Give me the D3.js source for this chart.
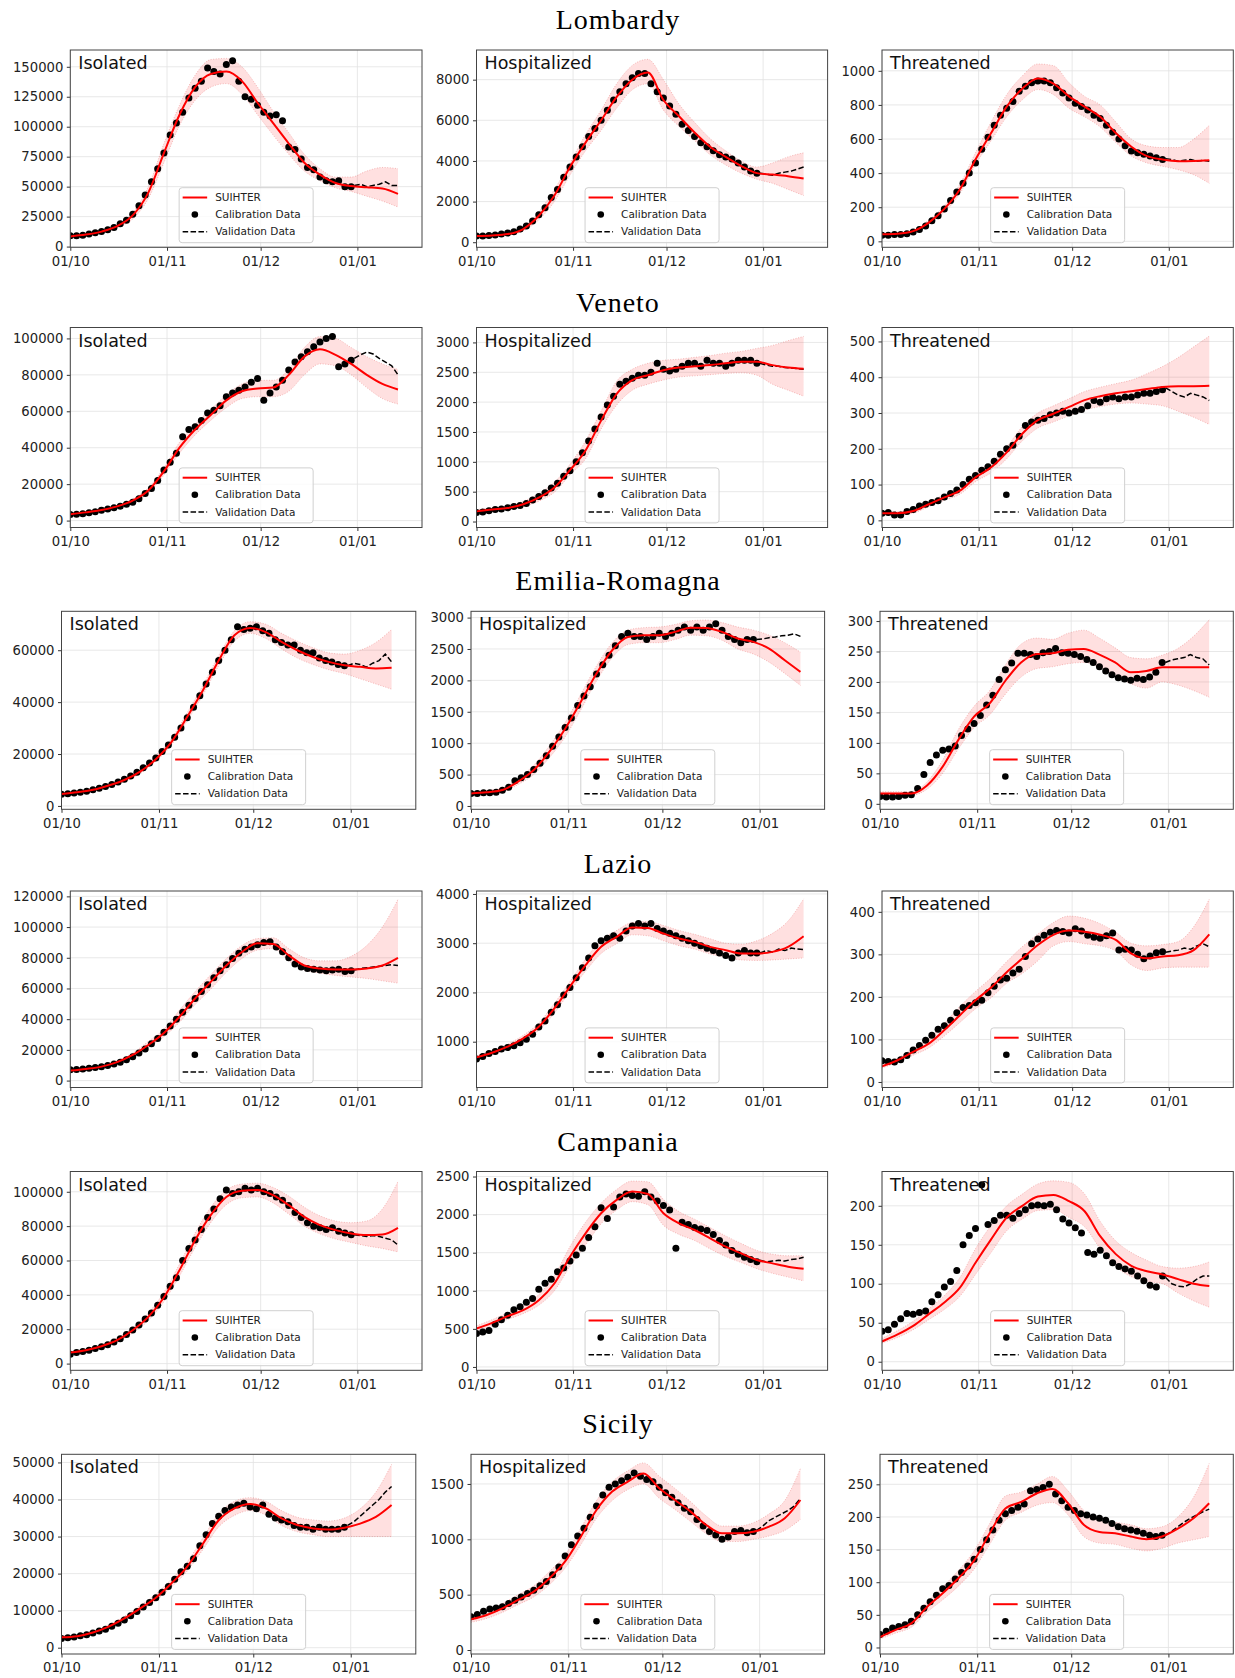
<!DOCTYPE html>
<meta charset="utf-8">
<style>
body { margin: 0; background: #fff; }
svg text { font-family: "DejaVu Sans", sans-serif; }
.region { font-family: "Liberation Serif", serif !important; font-size: 28px; letter-spacing: 1px; fill: #000; }
.ptitle { font-size: 17.5px; fill: #111; }
.axis text { font-size: 13.2px; fill: #222; }
.axis line { stroke: #333; }
.grid line { stroke: #e2e2e2; stroke-width: 0.8; }
.band { fill: #ff0000; fill-opacity: 0.12; stroke: none; }
.band-edge { fill: none; stroke: #e05050; stroke-opacity: 0.45; stroke-width: 0.8; stroke-dasharray: 1 1.6; }
.dot { fill: #000; }
.val { fill: none; stroke: #000; stroke-width: 1.5; stroke-dasharray: 5.5 2.4; }
.fit { fill: none; stroke: #ff0000; stroke-width: 2; }
.frame { fill: none; stroke: #444; stroke-width: 1; }
.legend rect { fill: #fff; fill-opacity: 0.8; stroke: #d0d0d0; stroke-width: 1; }
.legend text { font-size: 10.5px; fill: #222; }
</style>
<svg width="1235" height="1678"></svg>
<script src="https://d3js.org/d3.v7.min.js"></script>
<script>

var regions = ["Lombardy", "Veneto", "Emilia-Romagna", "Lazio", "Campania", "Sicily"];
var compartments = ["Isolated", "Hospitalized", "Threatened"];
var legendLabels = ["SUIHTER", "Calibration Data", "Validation Data"];

// days after 1 Oct 2020
var calDays = [0,2,4,6,8,10,12,14,16,18,20,22,24,26,28,30,32,34,36,38,40,42,44,46,48,50,52,54,56,58,60,62,64,66,68,70,72,74,76,78,80,82,84,86,88,90];
var fitDays = [0,5,10,15,20,25,30,35,40,45,50,55,60,65,70,75,80,85,90,95,100,105];
var valDays = [91,93,95,97,99,101,103,105];
var xTickDates = ["2020-10-01", "2020-11-01", "2020-12-01", "2021-01-01"];

// Lombardy
var lomIsoCal = [9000,9000,9500,10500,11500,12500,14000,16000,19000,22000,27000,34000,43000,54000,65000,78000,93000,103000,112000,124000,132000,138000,149000,146000,144000,152000,155000,138000,125000,123000,118000,112000,109000,110000,105000,83000,81000,73000,66000,64000,58000,55000,54000,55000,50000,50000];
var lomIsoFit = [8500,10000,12500,17000,26000,45000,78000,110000,133000,144000,146000,138000,120000,103000,86000,70000,60000,53000,50500,49500,48500,44000];
var lomIsoLo = [7500,9000,11500,15500,23000,40000,70000,101000,122000,133000,136000,127000,110000,93000,77000,63000,55000,49000,46000,42000,38000,33000];
var lomIsoHi = [9500,11000,13500,18500,28500,50000,86000,118000,143000,156000,157000,150000,133000,113000,95000,77000,65000,58000,58000,63000,66000,65000];
var lomIsoVal = [51000,52000,50000,51000,52000,54000,51000,51000];

var lomHosCal = [300,300,330,350,400,450,520,650,800,1050,1350,1700,2200,2600,3200,3700,4200,4700,5200,5600,6000,6500,7000,7400,7800,8100,8300,8300,7800,7400,7100,6700,6300,5800,5500,5200,4900,4700,4500,4300,4200,4100,3900,3700,3500,3400];
var lomHosFit = [300,330,400,650,1300,2300,3700,4900,6000,7150,8000,8350,7000,6200,5400,4700,4200,3750,3400,3330,3250,3140];
var lomHosLo = [250,300,350,550,1100,2000,3300,4500,5500,6600,7500,7800,6500,5700,5000,4300,3800,3400,3100,2900,2600,2300];
var lomHosHi = [350,400,480,750,1500,2600,3900,5300,6500,7800,8700,9000,8000,6800,5900,5100,4500,4000,3700,3900,4200,4400];
var lomHosVal = [3400,3350,3300,3400,3450,3500,3600,3700];

var lomThrCal = [35,35,40,40,45,55,70,90,120,150,190,240,290,340,400,460,540,610,680,740,780,820,880,910,930,940,940,930,900,870,840,810,790,770,740,720,680,640,600,560,530,520,510,500,490,480];
var lomThrFit = [42,45,60,110,190,305,480,635,790,895,955,925,850,790,730,635,555,500,480,470,471,475];
var lomThrLo = [35,40,55,100,170,280,450,590,730,830,890,860,780,730,670,580,500,460,440,420,390,340];
var lomThrHi = [45,50,65,125,210,335,520,700,860,970,1040,1030,930,850,800,700,600,560,550,550,600,680];
var lomThrVal = [485,480,470,475,480,470,475,470];

// Veneto
var venIsoCal = [3300,3500,3800,4300,4800,5700,6300,7000,7900,9000,10000,12000,14800,17600,22000,27700,32000,37000,46000,50000,51500,55000,59000,60600,63000,68000,70000,71600,73400,76000,78000,66000,70000,73400,77000,82600,87000,90000,92700,95400,98000,100000,101000,84400,86000,88000];
var venIsoFit = [3500,4500,5800,7800,11000,16500,27000,40000,50000,58000,66000,71000,72500,73000,80000,90000,94000,91000,86000,80000,75000,72000];
var venIsoLo = [3000,4000,5200,7000,10000,15000,25000,37000,47000,55000,62000,67000,68000,68000,71000,80000,86000,85000,80000,73000,67000,64000];
var venIsoHi = [4000,5000,6500,8500,12000,18000,29000,43000,53000,61000,69000,75000,77000,77000,83000,95000,101000,100000,95000,90000,86000,83000];
var venIsoVal = [89000,91000,92500,91500,89000,87000,85000,80000];

var venHosCal = [150,160,180,200,210,230,250,270,300,360,420,480,560,640,760,850,1000,1150,1350,1550,1750,1950,2100,2300,2350,2400,2450,2450,2500,2650,2550,2520,2550,2600,2650,2650,2600,2700,2650,2650,2600,2650,2700,2700,2700,2650];
var venHosFit = [170,200,225,290,400,570,860,1190,1690,2140,2370,2450,2535,2580,2600,2620,2650,2675,2675,2620,2580,2560];
var venHosLo = [140,170,200,250,340,490,780,1050,1550,1950,2200,2300,2370,2420,2440,2460,2480,2490,2450,2300,2200,2100];
var venHosHi = [200,230,270,340,470,660,960,1350,1850,2350,2550,2650,2700,2720,2750,2780,2820,2850,2900,2950,3030,3100];
var venHosVal = [2650,2620,2600,2600,2580,2570,2560,2550];

var venThrCal = [20,22,15,15,25,30,40,45,50,55,65,75,85,100,115,125,140,150,165,185,200,210,235,265,275,280,285,295,300,305,300,305,310,320,335,330,340,345,340,345,345,350,355,355,360,365];
var venThrFit = [20,20,26,45,64,83,120,148,190,242,280,298,317,336,347,355,361,367,373,375,375,376];
var venThrLo = [15,15,20,38,56,73,108,133,172,222,258,275,292,308,318,325,328,325,320,305,288,268];
var venThrHi = [25,25,30,52,72,93,135,162,205,262,300,320,340,360,372,382,392,410,430,455,485,515];
var venThrVal = [370,360,350,345,355,350,345,335];

// Emilia-Romagna
var emrIsoCal = [4500,4700,5000,5300,5700,6200,6800,7500,8300,9200,10300,11500,13000,14700,16500,18500,21000,23500,26500,30000,34000,38000,42500,47000,51500,56000,60000,64000,69000,68000,68500,69000,67500,66500,64000,63000,62000,62000,60000,59000,59000,57000,56000,55500,54500,54000];
var emrIsoFit = [4600,5300,6200,7900,10000,13200,18000,24700,34400,44600,56000,65800,68600,67000,63200,60000,57400,55500,54200,53600,53000,53200];
var emrIsoLo = [4300,5000,5800,7600,9300,12400,17200,23500,32800,42800,54000,63500,66500,64500,60500,57000,54500,52500,51000,49000,47000,45000];
var emrIsoHi = [4800,5700,6600,8600,10700,14000,19500,26000,36000,46500,58000,67500,71000,70000,66500,63500,61000,59000,58500,60000,63000,68000];
var emrIsoVal = [54000,55000,54500,53500,55000,56000,58500,55500];

var emrHosCal = [200,200,210,210,220,250,300,400,450,500,580,680,800,950,1100,1250,1400,1600,1750,1900,2100,2250,2400,2550,2700,2750,2700,2700,2650,2700,2750,2700,2750,2800,2850,2800,2850,2800,2850,2900,2800,2700,2650,2600,2650,2650];
var emrHosFit = [200,217,254,387,572,864,1230,1659,2109,2480,2692,2719,2719,2772,2840,2835,2772,2666,2613,2507,2321,2136];
var emrHosLo = [180,190,220,340,500,770,1100,1530,1990,2360,2570,2600,2600,2650,2720,2710,2640,2500,2420,2290,2110,1920];
var emrHosHi = [230,250,290,440,650,960,1330,1780,2230,2600,2800,2840,2850,2890,2950,2960,2920,2850,2800,2720,2600,2450];
var emrHosVal = [2650,2660,2680,2690,2710,2720,2740,2700];

var emrThrCal = [12,11,11,12,14,15,25,48,68,80,88,90,95,112,123,132,145,162,178,204,220,231,247,247,245,242,248,250,255,248,247,245,242,237,232,225,218,212,207,205,203,206,204,208,216,232];
var emrThrFit = [17,17,17,30,61,105,143,165,202,232,246,247,253,254,245,232,216,218,224,224,224,224];
var emrThrLo = [14,14,14,24,50,90,125,146,180,208,222,225,230,232,225,212,197,190,200,195,186,175];
var emrThrHi = [20,20,20,36,72,122,160,186,228,262,272,270,280,285,272,256,240,238,244,255,275,302];
var emrThrVal = [232,236,238,240,245,240,238,228];

// Lazio
var lazIsoCal = [7000,7200,7500,8000,8500,9000,9800,10800,12000,13500,15500,18000,20500,24000,27500,31500,35500,40000,44500,49000,53500,58000,62500,67000,71500,75500,79500,83000,85500,87000,88500,90000,90500,87000,84000,80000,76000,74000,73000,72500,72000,71500,72000,72500,71000,71500];
var lazIsoFit = [6500,7600,9100,12000,16700,23200,31000,41600,53500,64300,75000,83800,89500,89000,81600,75000,73000,72300,72300,73000,75000,80000];
var lazIsoLo = [6000,7000,8300,11000,15500,21500,28500,38000,49500,59500,70500,79500,85000,86000,78000,72000,70000,68500,67500,66500,65000,63500];
var lazIsoHi = [7200,8200,10000,13000,18000,25500,33500,46000,58000,69000,79500,88000,92500,93000,86000,80000,78000,78000,81000,88000,100000,118000];
var lazIsoVal = [72000,73000,73500,74000,74500,75000,75500,75000];

var lazHosCal = [650,700,760,800,850,880,920,980,1050,1150,1300,1420,1600,1750,1950,2100,2300,2500,2700,2950,3050,3100,3150,3100,3250,3350,3400,3350,3400,3300,3250,3200,3150,3100,3050,3000,2950,2900,2850,2800,2750,2700,2800,2850,2800,2800];
var lazHosFit = [682,777,899,1068,1304,1676,2120,2554,2926,3128,3320,3310,3196,3095,3027,2926,2858,2790,2790,2824,2926,3142];
var lazHosLo = [640,730,850,1010,1230,1580,2020,2430,2790,2990,3170,3150,3050,2950,2880,2780,2710,2660,2650,2660,2680,2700];
var lazHosHi = [720,820,950,1130,1380,1780,2220,2680,3060,3260,3420,3440,3360,3260,3180,3090,3000,2980,3050,3200,3450,3900];
var lazHosVal = [2800,2850,2820,2880,2850,2900,2880,2870];

var lazThrCal = [50,48,47,52,62,75,86,98,110,124,132,145,163,175,180,186,192,210,225,240,244,256,265,295,325,336,345,352,356,354,350,360,355,345,340,338,344,350,310,312,310,300,290,296,304,306];
var lazThrFit = [37,51,71,90,122,157,192,222,258,290,322,346,356,353,346,334,302,291,295,298,310,347];
var lazThrLo = [33,46,63,80,108,140,172,198,232,255,285,320,330,325,320,308,275,262,268,270,270,270];
var lazThrHi = [42,56,80,102,138,178,213,245,283,318,348,375,390,385,372,352,326,320,323,330,365,430];
var lazThrVal = [305,308,310,315,312,320,325,318];

// Campania
var camIsoCal = [5500,6500,7000,7800,8800,9800,11000,12500,14500,17000,19500,22500,26000,29500,34000,39000,45000,50000,60000,67000,72000,78000,85000,90000,96000,101000,99000,100000,102000,101000,102000,100000,99000,97000,95000,92000,88000,85000,82000,80000,79000,78000,79000,77000,76000,75000];
var camIsoFit = [6400,7800,10100,13600,19400,27200,38500,54400,71800,86400,97000,100600,101000,98000,92200,85400,80600,77700,75700,74800,75100,79000];
var camIsoLo = [5800,7100,9200,12300,17800,25000,36000,51000,67500,82000,92500,96500,97000,93500,87000,80000,75500,72500,70500,68500,67000,65000];
var camIsoHi = [7000,8500,11000,15000,21000,29500,41500,58000,76000,91000,101000,104500,105000,102500,97500,91000,86000,83000,82000,83000,90000,106000];
var camIsoVal = [75000,74500,74000,74500,74000,73000,72000,69000];

var camHosCal = [440,460,480,560,620,680,750,790,850,900,1020,1100,1150,1250,1300,1390,1470,1560,1700,1840,2090,1950,2100,2230,2270,2250,2240,2300,2230,2180,2120,2060,1560,1900,1870,1830,1810,1790,1740,1660,1600,1530,1480,1440,1410,1380];
var camHosFit = [504,579,667,746,877,1096,1447,1754,2018,2193,2303,2270,2018,1886,1798,1689,1579,1491,1404,1360,1316,1289];
var camHosLo = [470,540,625,700,810,1000,1320,1600,1880,2060,2170,2130,1860,1740,1660,1550,1450,1370,1290,1230,1180,1130];
var camHosHi = [540,620,710,800,950,1200,1580,1900,2150,2330,2440,2430,2200,2040,1940,1830,1720,1620,1530,1480,1460,1460];
var camHosVal = [1400,1380,1390,1400,1390,1410,1420,1440];

var camThrCal = [39,41,48,55,62,61,63,65,77,86,96,103,117,150,162,171,227,176,181,188,188,184,190,195,200,201,200,202,195,183,178,172,165,140,138,143,136,127,122,119,116,110,104,98,96,110];
var camThrFit = [26,35,46,61,76,95,127,157,185,200,212,214,206,193,161,138,123,116,112,106,100,97];
var camThrLo = [24,31,41,54,67,84,112,140,168,183,194,195,185,173,145,122,109,103,100,88,78,70];
var camThrHi = [30,40,52,68,85,108,145,175,200,215,228,232,230,215,180,155,140,130,122,120,122,128];
var camThrVal = [108,100,97,96,100,106,110,110];

// Sicily
var sicIsoCal = [2500,2700,2900,3200,3500,4000,4500,5000,5800,6600,7500,8600,9800,11000,12200,13500,15000,16500,18500,20500,22000,24000,27500,30500,33500,35500,37000,38000,38500,39000,38000,37500,38500,36000,35000,34500,34000,33000,32500,32500,32000,32500,32000,32000,32000,32500];
var sicIsoFit = [2800,3100,4100,5700,7900,10600,13500,17400,21900,28100,34400,37600,38800,37600,34900,33100,32200,31900,32400,33500,35300,38500];
var sicIsoLo = [2500,2800,3700,5200,7300,9800,12700,16400,20700,26500,32600,35700,37000,35800,33000,31300,30500,30000,30000,30000,30000,30000];
var sicIsoHi = [3200,3500,4500,6200,8500,11400,14500,18500,23200,29700,36200,39500,40500,39500,37000,35200,34500,34200,35000,37500,42000,49500];
var sicIsoVal = [33000,34000,35500,37000,38500,40000,42000,43500];

var sicHosCal = [300,320,350,370,380,390,420,450,480,510,540,580,620,680,750,850,950,1030,1100,1200,1300,1400,1470,1500,1530,1560,1600,1570,1540,1520,1470,1420,1380,1330,1280,1250,1180,1120,1070,1040,1000,1020,1070,1080,1060,1070];
var sicHosFit = [277,316,376,452,527,648,800,1024,1265,1431,1521,1595,1461,1355,1250,1129,1054,1054,1069,1114,1190,1355];
var sicHosLo = [250,285,340,410,480,590,740,950,1190,1350,1450,1500,1370,1270,1160,1050,980,980,1000,1030,1080,1180];
var sicHosHi = [310,350,420,500,580,710,860,1100,1350,1520,1620,1690,1570,1460,1340,1210,1120,1120,1150,1230,1350,1640];
var sicHosVal = [1080,1120,1170,1200,1230,1260,1300,1370];

var sicThrCal = [20,25,30,32,35,40,50,60,70,80,90,95,105,115,125,135,150,165,180,195,205,210,215,220,240,242,245,250,235,225,215,210,205,203,200,198,195,190,185,182,180,178,175,172,170,172];
var sicThrFit = [16,27,37,62,83,106,133,175,213,223,236,243,221,188,177,175,170,166,170,182,198,221];
var sicThrLo = [13,22,31,54,73,94,120,158,195,207,218,222,203,170,160,158,152,148,152,160,165,170];
var sicThrHi = [20,32,43,70,93,118,148,190,232,238,250,262,240,210,195,192,188,182,185,200,230,282];
var sicThrVal = [172,178,185,192,198,203,208,212];

var yLimits = [
  [[-600, 164000], [-250, 9460], [-35, 1122]],
  [[-3800, 106000], [-100, 3250], [-20, 539]],
  [[-1300, 75000], [-53, 3100], [-9, 316]],
  [[-4500, 123500], [70, 4060], [-13, 449]],
  [[-3900, 111800], [-44, 2566], [-11, 244]],
  [[-1700, 52200], [-36, 1768], [-10, 296]]
];
var yTickValues = [
  [[0,25000,50000,75000,100000,125000,150000], [0,2000,4000,6000,8000], [0,200,400,600,800,1000]],
  [[0,20000,40000,60000,80000,100000], [0,500,1000,1500,2000,2500,3000], [0,100,200,300,400,500]],
  [[0,20000,40000,60000], [0,500,1000,1500,2000,2500,3000], [0,50,100,150,200,250,300]],
  [[0,20000,40000,60000,80000,100000,120000], [1000,2000,3000,4000], [0,100,200,300,400]],
  [[0,20000,40000,60000,80000,100000], [0,500,1000,1500,2000,2500], [0,50,100,150,200]],
  [[0,10000,20000,30000,40000,50000], [0,500,1000,1500], [0,50,100,150,200,250]]
];

function series(cal, fit, lo, hi, val) {
  return {cal: cal, fit: fit, lo: lo, hi: hi, val: val};
}
var panels = [
  [series(lomIsoCal, lomIsoFit, lomIsoLo, lomIsoHi, lomIsoVal), series(lomHosCal, lomHosFit, lomHosLo, lomHosHi, lomHosVal), series(lomThrCal, lomThrFit, lomThrLo, lomThrHi, lomThrVal)],
  [series(venIsoCal, venIsoFit, venIsoLo, venIsoHi, venIsoVal), series(venHosCal, venHosFit, venHosLo, venHosHi, venHosVal), series(venThrCal, venThrFit, venThrLo, venThrHi, venThrVal)],
  [series(emrIsoCal, emrIsoFit, emrIsoLo, emrIsoHi, emrIsoVal), series(emrHosCal, emrHosFit, emrHosLo, emrHosHi, emrHosVal), series(emrThrCal, emrThrFit, emrThrLo, emrThrHi, emrThrVal)],
  [series(lazIsoCal, lazIsoFit, lazIsoLo, lazIsoHi, lazIsoVal), series(lazHosCal, lazHosFit, lazHosLo, lazHosHi, lazHosVal), series(lazThrCal, lazThrFit, lazThrLo, lazThrHi, lazThrVal)],
  [series(camIsoCal, camIsoFit, camIsoLo, camIsoHi, camIsoVal), series(camHosCal, camHosFit, camHosLo, camHosHi, camHosVal), series(camThrCal, camThrFit, camThrLo, camThrHi, camThrVal)],
  [series(sicIsoCal, sicIsoFit, sicIsoLo, sicIsoHi, sicIsoVal), series(sicHosCal, sicHosFit, sicHosLo, sicHosHi, sicHosVal), series(sicThrCal, sicThrFit, sicThrLo, sicThrHi, sicThrVal)]
];

// layout (pixels)
var colsA = [[70.3, 422], [476.5, 827.6], [882, 1233.3]],
    colsB = [[61.5, 415.8], [471, 824.6], [880, 1233.3]];
var rowsLayout = [
  {title: 29, top: 50, bottom: 247.3, cols: colsA},
  {title: 312, top: 327.5, bottom: 527.5, cols: colsA},
  {title: 589.5, top: 611.3, bottom: 809.3, cols: colsB},
  {title: 873, top: 891, bottom: 1087.5, cols: colsA},
  {title: 1150.5, top: 1171.5, bottom: 1370.3, cols: colsA},
  {title: 1433, top: 1454.3, bottom: 1654, cols: colsB}
];

var svg = d3.select("svg");
var t0 = Date.UTC(2020, 9, 1);
function day(d) { return new Date(t0 + d * 864e5); }
var xTicks = xTickDates.map(function(s) { return new Date(s + "T00:00:00Z"); });
var fmt = d3.utcFormat("%d/%m");

panels.forEach(function(row, r) {
  var L = rowsLayout[r];
  svg.append("text").attr("class", "region")
      .attr("x", 618).attr("y", L.title)
      .attr("text-anchor", "middle")
      .text(regions[r]);

  row.forEach(function(p, c) {
    var x0 = L.cols[c][0], x1 = L.cols[c][1];
    var x = d3.scaleUtc().domain([day(0), day(112.7)]).range([x0, x1]);
    var y = d3.scaleLinear().domain(yLimits[r][c]).range([L.bottom, L.top]);
    var ticks = yTickValues[r][c];
    var g = svg.append("g");
    var id = "clip" + r + "_" + c;

    g.append("clipPath").attr("id", id).append("rect")
        .attr("x", x0).attr("y", L.top)
        .attr("width", x1 - x0).attr("height", L.bottom - L.top);

    // grid
    g.append("g").attr("class", "grid").selectAll("line")
      .data(xTicks).join("line")
        .attr("x1", function(d) { return x(d); }).attr("x2", function(d) { return x(d); })
        .attr("y1", L.top).attr("y2", L.bottom);
    g.append("g").attr("class", "grid").selectAll("line")
      .data(ticks).join("line")
        .attr("x1", x0).attr("x2", x1)
        .attr("y1", function(d) { return y(d); }).attr("y2", function(d) { return y(d); });

    var plot = g.append("g").attr("clip-path", "url(#" + id + ")");

    var area = d3.area()
        .x(function(d, i) { return x(day(fitDays[i])); })
        .y0(function(d, i) { return y(p.lo[i]); })
        .y1(function(d, i) { return y(p.hi[i]); })
        .curve(d3.curveMonotoneX);
    var fitLine = d3.line()
        .x(function(d, i) { return x(day(fitDays[i])); })
        .y(function(d) { return y(d); })
        .curve(d3.curveMonotoneX);
    var valLine = d3.line()
        .x(function(d, i) { return x(day(valDays[i])); })
        .y(function(d) { return y(d); });

    plot.append("path").datum(p.lo).attr("class", "band").attr("d", area);
    plot.append("path").datum(p.lo).attr("class", "band-edge").attr("d", fitLine);
    plot.append("path").datum(p.hi).attr("class", "band-edge").attr("d", fitLine);

    g.append("text").attr("class", "ptitle")
        .attr("x", x0 + 8).attr("y", L.top + 19)
        .text(compartments[c]);

    plot.append("g").selectAll("circle")
      .data(p.cal).join("circle")
        .attr("class", "dot")
        .attr("cx", function(d, i) { return x(day(calDays[i])); })
        .attr("cy", function(d) { return y(d); })
        .attr("r", 3.5);

    plot.append("path").datum(p.val).attr("class", "val").attr("d", valLine);
    plot.append("path").datum(p.fit).attr("class", "fit").attr("d", fitLine);

    // axes
    g.append("g").attr("class", "axis")
        .attr("transform", "translate(0," + L.bottom + ")")
        .call(d3.axisBottom(x).tickValues(xTicks).tickFormat(fmt).tickSize(3.5).tickPadding(5.5))
        .call(function(a) { a.select(".domain").remove(); });
    g.append("g").attr("class", "axis")
        .attr("transform", "translate(" + x0 + ",0)")
        .call(d3.axisLeft(y).tickValues(ticks).tickFormat(d3.format("d")).tickSize(3.5).tickPadding(3.5))
        .call(function(a) { a.select(".domain").remove(); });

    g.append("rect").attr("class", "frame")
        .attr("x", x0).attr("y", L.top)
        .attr("width", x1 - x0).attr("height", L.bottom - L.top);

    // legend, lower center
    var bw = 134, bh = 55;
    var bx = (x0 + x1) / 2 - bw / 2, by = L.bottom - 4.6 - bh;
    var lg = g.append("g").attr("class", "legend").attr("transform", "translate(" + bx + "," + by + ")");
    lg.append("rect").attr("width", bw).attr("height", bh).attr("rx", 3);
    var rowsY = [9.8, 26.8, 44];
    lg.append("line").attr("class", "fit").attr("x1", 3.5).attr("x2", 28).attr("y1", rowsY[0]).attr("y2", rowsY[0]);
    lg.append("circle").attr("class", "dot").attr("cx", 15.7).attr("cy", rowsY[1]).attr("r", 3.3);
    lg.append("line").attr("class", "val").attr("x1", 3.5).attr("x2", 28).attr("y1", rowsY[2]).attr("y2", rowsY[2]);
    lg.selectAll("text").data(legendLabels).join("text")
        .attr("x", 36).attr("y", function(d, i) { return rowsY[i]; })
        .attr("dy", "0.36em")
        .text(function(d) { return d; });
  });
});

</script>
